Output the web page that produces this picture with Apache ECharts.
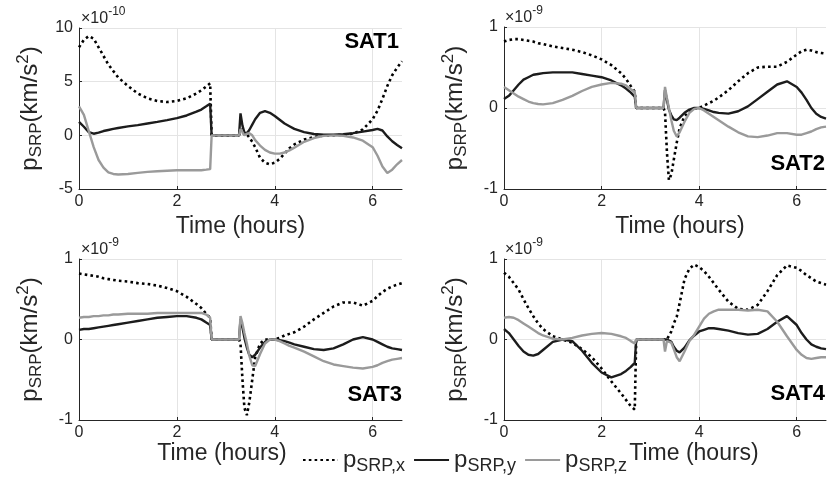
<!DOCTYPE html>
<html>
<head>
<meta charset="utf-8">
<script src="https://cdn.jsdelivr.net/npm/echarts@6/dist/echarts.min.js"></script>
<style>
  html, body { margin: 0; padding: 0; background: #ffffff; }
  #chart { width: 829px; height: 482px; }
</style>
</head>
<body>
<div id="chart"></div>
<script>
// Sample times (hours) shared by every satellite trace
const hours = [0, 0.1, 0.2, 0.3, 0.4, 0.5, 0.6, 0.7, 0.8, 1.0, 1.2, 1.4, 1.6, 1.8, 2.0, 2.2, 2.4, 2.5, 2.6, 2.68, 2.71,
  3.0, 3.27, 3.3, 3.34, 3.38, 3.43, 3.48, 3.54, 3.6, 3.7, 3.8, 3.9, 4.0, 4.1, 4.2, 4.3, 4.4, 4.6, 4.8, 5.0, 5.2, 5.4,
  5.6, 5.8, 6.0, 6.1, 6.2, 6.3, 6.4, 6.5, 6.6];

// SAT1, values in units of 1e-10 km/s^2
const sat1X = [8.2, 8.9, 9.25, 9.0, 8.2, 7.4, 6.6, 6.0, 5.4, 4.6, 3.9, 3.45, 3.2, 3.1, 3.2, 3.45, 3.9, 4.2, 4.55, 4.85, 0,
  0, 0, 0.6, 0.3, 0.1, 0.1, -0.2, -0.6, -1.1, -2.1, -2.55, -2.7, -2.55, -2.2, -1.7, -1.2, -0.85, -0.4, -0.15, -0.02, 0, 0.05,
  0.15, 0.55, 1.5, 2.3, 3.4, 4.6, 5.6, 6.3, 6.9];
const sat1Y = [1.25, 0.8, 0.3, 0.15, 0.25, 0.4, 0.5, 0.6, 0.68, 0.83, 0.95, 1.1, 1.25, 1.42, 1.6, 1.85, 2.2, 2.4, 2.7, 2.95, 0,
  0, 0, 2.05, 0.9, 0.25, 0.2, 0.5, 1.0, 1.5, 2.1, 2.25, 2.1, 1.8, 1.45, 1.1, 0.85, 0.6, 0.3, 0.12, 0.05, 0.05, 0.1,
  0.2, 0.35, 0.5, 0.6, 0.45, -0.1, -0.55, -0.9, -1.2];
const sat1Z = [2.7, 1.9, 0.4, -1.1, -2.3, -3.0, -3.45, -3.6, -3.65, -3.6, -3.5, -3.4, -3.35, -3.3, -3.25, -3.25, -3.25, -3.25, -3.2, -3.15, 0,
  0, 0, 0.6, 0.3, 0.0, 0.15, 0.2, 0.0, -0.45, -0.95, -1.35, -1.6, -1.7, -1.7, -1.6, -1.4, -1.15, -0.6, -0.25, -0.05, 0, -0.05,
  -0.2, -0.5, -1.1, -1.9, -2.9, -3.5, -3.2, -2.7, -2.3];

// SAT2, values in units of 1e-9 km/s^2
const sat2X = [0.82, 0.84, 0.85, 0.85, 0.84, 0.83, 0.82, 0.8, 0.79, 0.76, 0.74, 0.72, 0.69, 0.65, 0.6, 0.53, 0.43, 0.36, 0.27, 0.2, 0,
  0, 0, -0.05, -0.55, -0.89, -0.82, -0.64, -0.43, -0.25, -0.1, -0.04, -0.01, 0.0, 0.03, 0.06, 0.09, 0.13, 0.22, 0.33, 0.43, 0.5, 0.51,
  0.51, 0.57, 0.66, 0.70, 0.72, 0.71, 0.69, 0.68, 0.67];
const sat2Y = [0.11, 0.15, 0.22, 0.29, 0.35, 0.38, 0.41, 0.42, 0.43, 0.44, 0.44, 0.44, 0.42, 0.4, 0.38, 0.34, 0.28, 0.24, 0.19, 0.14, 0,
  0, 0, 0.22, 0.1, -0.02, -0.09, -0.14, -0.15, -0.12, -0.06, -0.02, 0, 0, -0.01, -0.03, -0.05, -0.06, -0.07, -0.04, 0.02, 0.11, 0.2,
  0.29, 0.33, 0.26, 0.19, 0.1, 0.0, -0.07, -0.11, -0.13];
const sat2Z = [0.26, 0.22, 0.18, 0.14, 0.11, 0.08, 0.06, 0.05, 0.045, 0.06, 0.1, 0.15, 0.21, 0.26, 0.29, 0.31, 0.3, 0.28, 0.23, 0.2, 0,
  0, 0, 0.26, 0.12, 0.0, -0.15, -0.28, -0.35, -0.3, -0.17, -0.06, -0.01, 0, -0.03, -0.07, -0.11, -0.15, -0.23, -0.3, -0.35, -0.36, -0.34,
  -0.31, -0.31, -0.33, -0.33, -0.31, -0.29, -0.26, -0.24, -0.23];

// SAT3, values in units of 1e-9 km/s^2
const sat3X = [0.82, 0.81, 0.8, 0.79, 0.78, 0.76, 0.75, 0.74, 0.73, 0.72, 0.7, 0.69, 0.67, 0.64, 0.6, 0.53, 0.44, 0.39, 0.32, 0.27, 0,
  0, 0, -0.05, -0.5, -0.85, -0.94, -0.78, -0.5, -0.22, -0.05, 0.0, 0.0, 0.0, 0.02, 0.05, 0.07, 0.09, 0.16, 0.25, 0.33, 0.41, 0.46,
  0.46, 0.42, 0.48, 0.54, 0.59, 0.63, 0.66, 0.68, 0.70];
const sat3Y = [0.12, 0.13, 0.13, 0.14, 0.15, 0.16, 0.17, 0.18, 0.19, 0.21, 0.23, 0.25, 0.27, 0.28, 0.29, 0.29, 0.27, 0.25, 0.21, 0.18, 0,
  0, 0, 0.25, 0.15, 0.02, -0.1, -0.19, -0.22, -0.19, -0.1, -0.03, 0, 0, -0.01, -0.02, -0.04, -0.06, -0.09, -0.12, -0.13, -0.11, -0.06,
  0.0, 0.03, 0.0, -0.03, -0.06, -0.09, -0.11, -0.12, -0.13];
const sat3Z = [0.27, 0.28, 0.28, 0.29, 0.29, 0.3, 0.3, 0.31, 0.31, 0.32, 0.32, 0.32, 0.33, 0.33, 0.33, 0.33, 0.33, 0.33, 0.31, 0.27, 0,
  0, 0, 0.29, 0.2, 0.08, -0.05, -0.2, -0.32, -0.33, -0.18, -0.05, 0, 0, -0.02, -0.05, -0.08, -0.1, -0.15, -0.21, -0.27, -0.31, -0.33,
  -0.35, -0.36, -0.34, -0.32, -0.29, -0.27, -0.25, -0.24, -0.23];

// SAT4, values in units of 1e-9 km/s^2
const sat4X = [0.83, 0.78, 0.7, 0.62, 0.5, 0.39, 0.29, 0.2, 0.13, 0.04, 0.0, -0.04, -0.12, -0.22, -0.36, -0.52, -0.67, -0.75, -0.83, -0.87, 0,
  0, 0, 0, 0, 0.02, 0.1, 0.2, 0.28, 0.45, 0.75, 0.88, 0.93, 0.9, 0.85, 0.78, 0.7, 0.62, 0.47, 0.38, 0.37, 0.43, 0.6,
  0.8, 0.92, 0.89, 0.85, 0.8, 0.76, 0.72, 0.7, 0.68];
const sat4Y = [0.13, 0.08, 0.0, -0.08, -0.15, -0.19, -0.2, -0.18, -0.13, -0.03, 0.0, -0.02, -0.14, -0.29, -0.41, -0.47, -0.43, -0.39, -0.34, -0.29, 0,
  0, 0, 0, 0, 0, -0.03, -0.09, -0.14, -0.16, -0.1, -0.01, 0.05, 0.1, 0.12, 0.14, 0.14, 0.13, 0.11, 0.08, 0.06, 0.07, 0.13,
  0.22, 0.29, 0.18, 0.08, 0.0, -0.06, -0.09, -0.11, -0.12];
const sat4Z = [0.27, 0.28, 0.27, 0.24, 0.2, 0.16, 0.12, 0.08, 0.05, 0.01, 0.0, 0.02, 0.05, 0.07, 0.08, 0.07, 0.04, 0.02, -0.02, -0.05, 0,
  0, 0, -0.15, -0.02, 0, -0.04, -0.12, -0.22, -0.27, -0.15, -0.02, 0.06, 0.16, 0.26, 0.32, 0.35, 0.37, 0.37, 0.37, 0.36, 0.37, 0.35,
  0.22, 0.04, -0.13, -0.19, -0.23, -0.24, -0.23, -0.22, -0.22];

// Axis ticks
const xTicks = { min: 0, max: 6.6, step: 2 };
const yTicksSat1 = { min: -5, max: 10, step: 5 };
const yTicksOther = { min: -1, max: 1, step: 1 };

const satNames = ['SAT1', 'SAT2', 'SAT3', 'SAT4'];
const exponents = ['-10', '-9', '-9', '-9'];
const componentNames = ['pSRPx', 'pSRPy', 'pSRPz'];
const componentSubs = { pSRPx: 'SRP,x', pSRPy: 'SRP,y', pSRPz: 'SRP,z' };

const panelData = [
  { x: sat1X, y: sat1Y, z: sat1Z, ticks: yTicksSat1 },
  { x: sat2X, y: sat2Y, z: sat2Z, ticks: yTicksOther },
  { x: sat3X, y: sat3Y, z: sat3Z, ticks: yTicksOther },
  { x: sat4X, y: sat4Y, z: sat4Z, ticks: yTicksOther }
];

// ---- presentation ----
const FONT = '"Liberation Sans", Arial, Helvetica, sans-serif';
const INK = '#262626';
const GRID_LINE = '#e4e4e4';

const gridBoxes = [
  { left: 79, top: 28, width: 323, height: 161 },
  { left: 504, top: 27, width: 322, height: 162 },
  { left: 79, top: 259, width: 323, height: 161 },
  { left: 504, top: 259, width: 322, height: 161 }
];
const timeLabelLayout = [
  { gap: 26, padding: [0, 0, 0, 0] },
  { gap: 26, padding: [0, 0, 0, 30] },
  { gap: 20, padding: [0, 37, 0, 0] },
  { gap: 20, padding: [0, 0, 0, 58] }
];
const satLabelLayout = [
  { right: 430, top: 31 },
  { right: 4, top: 153 },
  { right: 427, top: 384 },
  { right: 4, top: 383 }
];
const exponentLayout = [
  { left: 81, top: 6 },
  { left: 505, top: 5 },
  { left: 81, top: 237 },
  { left: 505, top: 237 }
];
const lineStyles = [
  { color: '#000000', width: 2.6, type: [2.6, 3.2], cap: 'butt' },
  { color: '#1c1c1c', width: 2.4, type: 'solid' },
  { color: '#9a9a9a', width: 2.4, type: 'solid' }
];

const yNameRich = {
  p: { fontSize: 24, fontFamily: FONT, color: INK, lineHeight: 30 },
  sub: { fontSize: 17, fontFamily: FONT, color: INK, lineHeight: 17, verticalAlign: 'bottom' },
  sup: { fontSize: 17, fontFamily: FONT, color: INK, lineHeight: 17, verticalAlign: 'top' }
};

const xAxes = gridBoxes.map((g, i) => ({
  type: 'value', gridIndex: i, min: xTicks.min, max: xTicks.max, interval: xTicks.step,
  axisLine: { onZero: false, lineStyle: { color: INK, width: 1 } },
  axisTick: { inside: true, length: 3, lineStyle: { color: INK } },
  axisLabel: {
    color: INK, fontSize: 16, fontFamily: FONT, margin: 5, showMaxLabel: false,
    formatter: v => (Math.abs(v % xTicks.step) < 1e-9 ? String(v) : '')
  },
  splitLine: { show: true, showMinLine: false, showMaxLine: false, lineStyle: { color: GRID_LINE, width: 1 } },
  name: 'Time (hours)', nameLocation: 'middle', nameGap: timeLabelLayout[i].gap,
  nameTextStyle: { fontSize: 23, fontFamily: FONT, color: INK, padding: timeLabelLayout[i].padding }
}));

const yAxes = panelData.map((p, i) => ({
  type: 'value', gridIndex: i, min: p.ticks.min, max: p.ticks.max, interval: p.ticks.step,
  axisLine: { show: true, onZero: false, lineStyle: { color: INK, width: 1 } },
  axisTick: { show: true, inside: true, length: 3, lineStyle: { color: INK } },
  axisLabel: { color: INK, fontSize: 16, fontFamily: FONT, margin: 6 },
  splitLine: { show: true, showMinLine: false, lineStyle: { color: GRID_LINE, width: 1 } },
  name: '{p|p}{sub|SRP}{p|(km/s}{sup|2}{p|)}',
  nameLocation: 'middle', nameRotate: 90, nameGap: 34,
  nameTextStyle: { rich: yNameRich }
}));

const series = [];
panelData.forEach((p, i) => {
  [p.x, p.y, p.z].forEach((vals, c) => {
    series.push({
      type: 'line', name: componentNames[c], xAxisIndex: i, yAxisIndex: i,
      data: hours.map((t, k) => [t, vals[k]]),
      symbol: 'none', showSymbol: false, smooth: false, silent: true,
      lineStyle: lineStyles[c], itemStyle: { color: lineStyles[c].color },
      emphasis: { disabled: true }, z: 2 + c
    });
  });
});

const titles = [];
satNames.forEach((s, i) => {
  titles.push({
    text: s, right: satLabelLayout[i].right, top: satLabelLayout[i].top, padding: 0,
    textStyle: { fontSize: 22, fontWeight: 'bold', fontFamily: FONT, color: '#000000' }
  });
  titles.push({
    text: '{a|\u00d710}{b|' + exponents[i] + '}',
    left: exponentLayout[i].left, top: exponentLayout[i].top, padding: 0,
    textStyle: {
      fontWeight: 'normal',
      rich: {
        a: { fontSize: 16, fontWeight: 'normal', fontFamily: FONT, color: INK, lineHeight: 26 },
        b: { fontSize: 12, fontWeight: 'normal', fontFamily: FONT, color: INK, lineHeight: 12, verticalAlign: 'top' }
      }
    }
  });
});

const chart = echarts.init(document.getElementById('chart'), null, { renderer: 'canvas' });
chart.setOption({
  animation: false,
  backgroundColor: '#ffffff',
  textStyle: { fontFamily: FONT },
  title: titles,
  grid: gridBoxes.map(g => Object.assign({ containLabel: false }, g)),
  xAxis: xAxes,
  yAxis: yAxes,
  legend: {
    data: componentNames,
    left: 302, top: 448, padding: 0,
    itemWidth: 35, itemHeight: 14, itemGap: 8,
    selectedMode: false,
    itemStyle: { opacity: 0 },
    formatter: n => '{p|p}{s|' + componentSubs[n] + '}',
    textStyle: {
      rich: {
        p: { fontSize: 24, fontFamily: FONT, color: INK, lineHeight: 30 },
        s: { fontSize: 18, fontFamily: FONT, color: INK, lineHeight: 18, verticalAlign: 'bottom' }
      }
    }
  },
  series: series
});
</script>
</body>
</html>
